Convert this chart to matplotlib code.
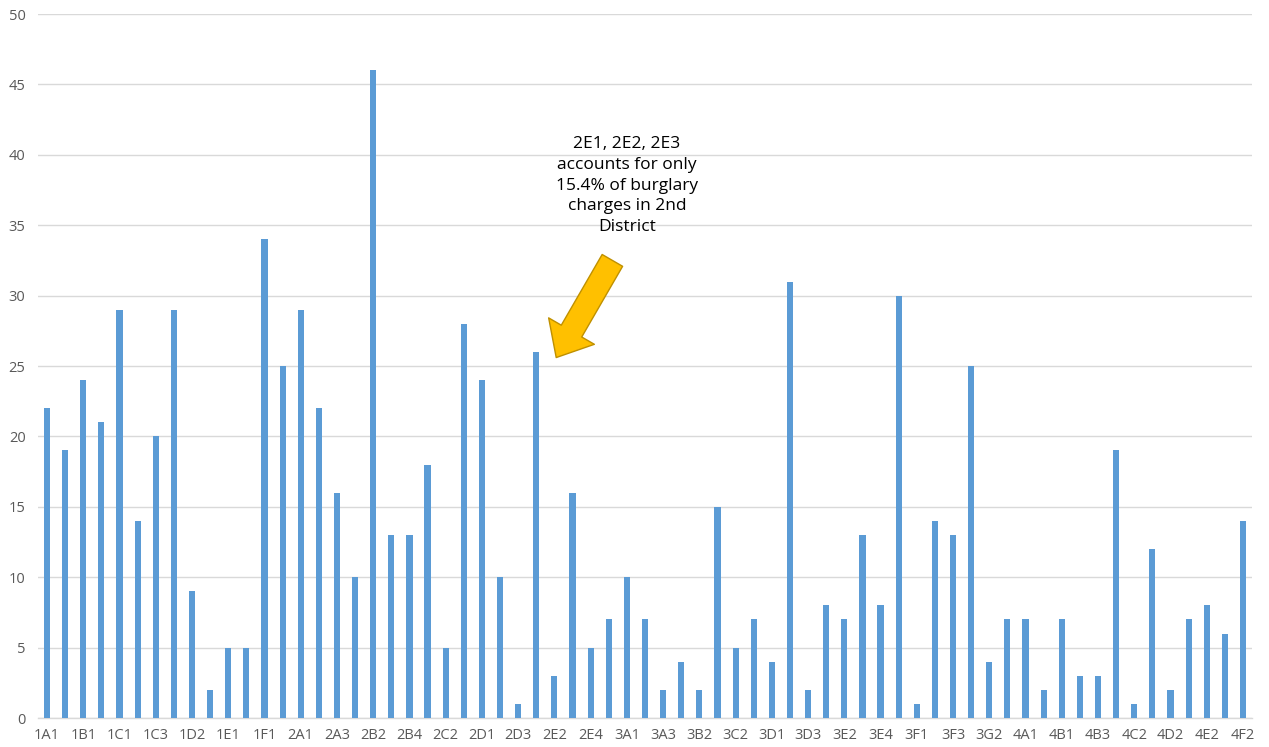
import matplotlib
matplotlib.use("Agg")
import matplotlib.pyplot as plt

categories = [
    "1A1", "1A2", "1B1", "1B2", "1C1", "1C2", "1C3", "1D1", "1D2", "1D3",
    "1E1", "1E2", "1F1", "1F2", "2A1", "2A2", "2A3", "2B1", "2B2", "2B3",
    "2B4", "2C1", "2C2", "2C3", "2D1", "2D2", "2D3", "2E1", "2E2", "2E3",
    "2E4", "2F1", "3A1", "3A2", "3A3", "3B1", "3B2", "3C1", "3C2", "3C3",
    "3D1", "3D2", "3D3", "3E1", "3E2", "3E3", "3E4", "3E5", "3F1", "3F2",
    "3F3", "3G1", "3G2", "3G3", "4A1", "4A2", "4B1", "4B2", "4B3", "4C1",
    "4C2", "4D1", "4D2", "4E1", "4E2", "4F1", "4F2",
]
values = [
    22, 19, 24, 21, 29, 14, 20, 29, 9, 2,
    5, 5, 34, 25, 29, 22, 16, 10, 46, 13,
    13, 18, 5, 28, 24, 10, 1, 26, 3, 16,
    5, 7, 10, 7, 2, 4, 2, 15, 5, 7,
    4, 31, 2, 8, 7, 13, 8, 30, 1, 14,
    13, 25, 4, 7, 7, 2, 7, 3, 3, 19,
    1, 12, 2, 7, 8, 6, 14,
]
yticks = [0, 5, 10, 15, 20, 25, 30, 35, 40, 45, 50]
note = "2E1, 2E2, 2E3\naccounts for only\n15.4% of burglary\ncharges in 2nd\nDistrict"

plt.rcParams["font.family"] = ["Open Sans", "DejaVu Sans"]

fig = plt.figure(figsize=(12.69, 7.47), dpi=100)
ax = fig.add_axes([38 / 1269, 1 - 718 / 747, (1252 - 38) / 1269, (718 - 14) / 747])

x = list(range(len(categories)))
ax.bar(x, values, width=0.34, color="#5B9BD5", zorder=3)

ax.set_xlim(-0.5, len(categories) - 0.5)
ax.set_ylim(0, 50)
ax.set_yticks(yticks)
ax.set_yticklabels([str(t) for t in yticks])
ax.set_xticks(x[::2])
ax.set_xticklabels(categories[::2])
ax.grid(axis="y", color="#D9D9D9", linewidth=1, zorder=0)
for s in ["top", "right", "left"]:
    ax.spines[s].set_visible(False)
ax.spines["bottom"].set_color("#D9D9D9")
ax.spines["bottom"].set_linewidth(1)
ax.tick_params(axis="both", length=0, colors="#595959", labelsize=10.5)
ax.tick_params(axis="y", pad=9)
ax.tick_params(axis="x", pad=7)

ax.text(32.0, 41.3, note, ha="center", va="top", fontsize=12.5, color="#000000",
        linespacing=1.38, zorder=5)

ax.annotate("", xy=(28.1, 25.6), xytext=(31.2, 32.5),
            arrowprops=dict(arrowstyle="simple,head_length=22,head_width=38,tail_width=17",
                            mutation_scale=1, fc="#FFC000", ec="#BF9000", lw=1,
                            shrinkA=0, shrinkB=0), zorder=6)

fig.savefig("out.png", dpi=100)
